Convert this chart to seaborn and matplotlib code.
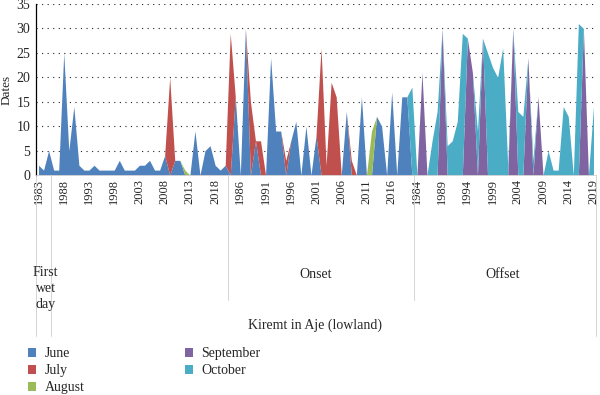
import matplotlib.pyplot as plt
import matplotlib.transforms as mtransforms
import numpy as np
import pandas as pd
import seaborn as sns

sns.set_theme(style="white")
plt.rcParams['font.family'] = ['Liberation Serif', 'DejaVu Serif']

months = ["June", "July", "August", "September", "October"]
month_codes = ["J", "L", "A", "S", "O"]
colors = ["#4F81BD", "#C0504D", "#9BBB59", "#8064A2", "#4BACC6"]
groups = ["First\nwet\nday", "Onset", "Offset"]
years = list(range(1983, 2020))

# one value per year and the month it falls in
# J=June, L=July, A=August, S=September, O=October
first_wet_values = [2, 1, 5, 1, 1, 25, 5, 14, 2, 1, 1, 2, 1, 1, 1, 1, 3, 1, 1, 1,
                    2, 2, 3, 1, 1, 4, 20, 3, 3, 1, 0, 9, 0, 5, 6, 2, 1]
first_wet_months = "J" * 26 + "L" + "JJ" + "A" + "J" * 7

onset_values = [2, 29, 16, 0, 30, 15, 7, 7, 0, 24, 9, 9, 3, 7, 11, 0, 10, 0, 8, 26,
                2, 19, 16, 0, 13, 3, 0, 16, 0, 9, 12, 10, 0, 17, 0, 16, 16]
onset_months = "JLJJJLJL" + "JJJJL" + "JJJJJJ" + "LLLL" + "JJL" + "JJJ" + "A" + "J" * 7

offset_values = [18, 0, 21, 0, 7, 13, 30, 6, 7, 11, 29, 28, 21, 9, 28, 25, 22, 20, 26, 2,
                 30, 13, 12, 24, 3, 16, 0, 5, 1, 1, 14, 12, 0, 31, 30, 0, 14]
offset_months = "OOSOOOS" + "OOOO" + "SSOS" + "OOOOO" + "S" + "OO" + "S" + "O" + "S" + "O" * 8 + "S" + "OO"

# build long table -> one column per month
rows = []
for g, vals, codes in [(0, first_wet_values, first_wet_months),
                       (1, onset_values, onset_months),
                       (2, offset_values, offset_months)]:
    for y, v, c in zip(years, vals, codes):
        rows.append({"group": g, "year": y, "month": months[month_codes.index(c)], "value": v})
df = pd.DataFrame(rows)
df["pos"] = np.arange(len(df))
wide = df.pivot_table(index="pos", columns="month", values="value", fill_value=0)
wide = wide.reindex(columns=months, fill_value=0)

W, H = 600, 395
fig = plt.figure(figsize=(W / 100, H / 100), dpi=100)
ax = fig.add_axes([36 / W, 1 - 175 / H, 560 / W, 171 / H])

polys = ax.stackplot(wide.index, *[wide[m].values for m in months],
                     colors=colors, labels=months, linewidth=0)

n = len(df)
ax.set_xlim(-0.5, n - 0.5)
ax.set_ylim(0, 35)
ax.set_yticks(range(0, 36, 5))
ax.yaxis.grid(True, linestyle=(0, (1, 4)), color="#222222", linewidth=0.8)
ax.set_axisbelow(True)

# year labels every 5th category
major = df["pos"].values[::5]
ax.set_xticks(major)
ax.set_xticklabels(df["year"].values[::5], rotation=90, fontsize=9)
shift = mtransforms.ScaledTranslation(3 / 100, 0, fig.dpi_scale_trans)
for lab in ax.get_xticklabels():
    lab.set_transform(lab.get_transform() + shift)
ax.set_xticks(np.arange(-0.5, n, 1), minor=True)
ax.tick_params(axis="x", which="major", length=0, pad=3)
ax.tick_params(axis="x", which="minor", length=41, width=0.5, color="#d4d4d4", direction="out")
ax.tick_params(axis="y", length=0, pad=4, labelsize=10)

for s in ["top", "right"]:
    ax.spines[s].set_visible(False)
ax.spines["left"].set_color("black")
ax.spines["left"].set_linewidth(0.9)
ax.spines["bottom"].set_color("#d4d4d4")
ax.spines["bottom"].set_linewidth(0.6)

ax.set_ylabel("Dates", fontsize=9.5, labelpad=3)

# multi-level category axis
trans = mtransforms.blended_transform_factory(ax.transData, ax.transAxes)
for xb in [37.5, 74.5]:
    ax.plot([xb, xb], [0, -0.73], transform=trans, color="#d4d4d4", lw=0.7, clip_on=False)
for xb in [-0.5, 2.5, n - 0.5]:
    ax.plot([xb, xb], [0, -0.94], transform=trans, color="#d4d4d4", lw=0.7, clip_on=False)

ax.text(1.4, -0.535, groups[0], transform=trans, ha="center", va="top",
        fontsize=10, linespacing=1.3)
ax.text(55, -0.58, groups[1], transform=trans, ha="center", va="center", fontsize=10)
ax.text(92, -0.58, groups[2], transform=trans, ha="center", va="center", fontsize=10)
fig.text(315 / W, 1 - 325 / H, "Kiremt in Aje (lowland)", ha="center", va="center", fontsize=10)

fig.legend(polys, months, loc="upper left", bbox_to_anchor=(28 / W, 1 - 347 / H),
           ncol=2, frameon=False, fontsize=10, handlelength=0.6, handleheight=0.6,
           handletextpad=0.6, columnspacing=7.2, labelspacing=0.3, borderaxespad=0,
           borderpad=0)

plt.savefig("out.png", dpi=100)
